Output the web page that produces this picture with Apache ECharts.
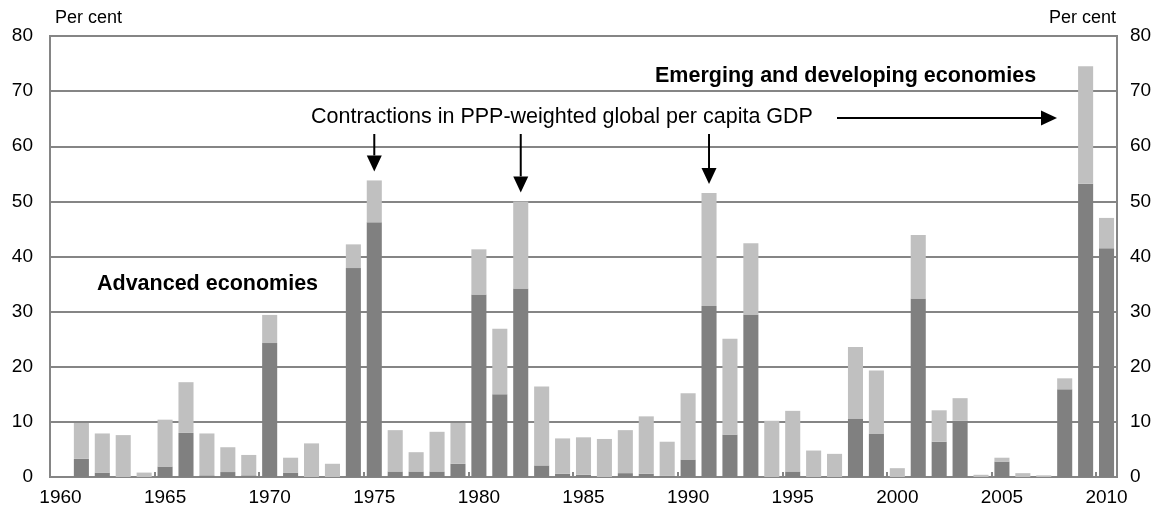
<!DOCTYPE html>
<html>
<head>
<meta charset="utf-8">
<script src="https://cdn.jsdelivr.net/npm/echarts@6/dist/echarts.min.js"></script>
<style>
  html, body { margin: 0; padding: 0; background: #fff; }
  #chart { width: 1165px; height: 518px; }
</style>
</head>
<body>
<div id="chart"></div>
<script>
// years on the x axis
var years = ['1960','1961','1962','1963','1964','1965','1966','1967','1968','1969',
  '1970','1971','1972','1973','1974','1975','1976','1977','1978','1979',
  '1980','1981','1982','1983','1984','1985','1986','1987','1988','1989',
  '1990','1991','1992','1993','1994','1995','1996','1997','1998','1999',
  '2000','2001','2002','2003','2004','2005','2006','2007','2008','2009','2010'];

// share in recession, per cent (dark grey)
var advanced = [0, 3.3, 0.8, 0, 0, 1.9, 8.0, 0.3, 0.9, 0.3,
  24.3, 0.8, 0, 0, 37.9, 46.2, 1.0, 1.0, 1.0, 2.4,
  33.1, 15.0, 34.2, 2.1, 0.6, 0.4, 0, 0.7, 0.6, 0.2,
  3.1, 31.0, 7.7, 29.5, 0, 1.0, 0, 0, 10.6, 7.8,
  0, 32.4, 6.4, 10.2, 0, 2.8, 0, 0, 15.9, 53.2, 41.5];

// stacked on top (light grey)
var emerging = [0, 6.5, 7.1, 7.6, 0.8, 8.5, 9.2, 7.6, 4.5, 3.7,
  5.1, 2.7, 6.1, 2.4, 4.3, 7.6, 7.5, 3.5, 7.2, 7.4,
  8.2, 11.9, 15.8, 14.3, 6.4, 6.8, 6.9, 7.8, 10.4, 6.2,
  12.1, 20.5, 17.4, 12.9, 10.2, 11.0, 4.8, 4.2, 13.0, 11.5,
  1.6, 11.5, 5.7, 4.1, 0.4, 0.7, 0.7, 0.3, 2.0, 21.3, 5.5];

// years marked with a down arrow
var contractionYears = ['1975', '1982', '1991'];

var FONT = 'Liberation Sans, Arial, sans-serif';
var gridColor = '#858585';

var chart = echarts.init(document.getElementById('chart'));

var option = {
  animation: false,
  grid: {
    left: 50, right: 48, top: 36, bottom: 41,
    show: true, borderColor: gridColor, borderWidth: 2
  },
  xAxis: {
    type: 'category',
    data: years,
    axisLine: { lineStyle: { color: gridColor, width: 2 } },
    axisTick: { show: true, inside: true, length: 5, interval: 4, lineStyle: { color: gridColor, width: 2 } },
    axisLabel: { interval: 4, color: '#000', fontSize: 19, fontFamily: FONT, margin: 11 }
  },
  yAxis: [
    {
      type: 'value', min: 0, max: 80, interval: 10, position: 'left',
      axisLine: { show: true, lineStyle: { color: gridColor, width: 2 } },
      axisTick: { show: false },
      splitLine: { lineStyle: { color: gridColor, width: 2 } },
      axisLabel: { color: '#000', fontSize: 19, fontFamily: FONT, margin: 17 }
    },
    {
      type: 'value', min: 0, max: 80, interval: 10, position: 'right',
      axisLine: { show: true, lineStyle: { color: gridColor, width: 2 } },
      axisTick: { show: false },
      splitLine: { show: false },
      axisLabel: { color: '#000', fontSize: 19, fontFamily: FONT, margin: 13 }
    }
  ],
  series: [
    {
      name: 'Advanced economies', type: 'bar', stack: 'share',
      data: advanced, barCategoryGap: '28%',
      itemStyle: { color: '#808080' }
    },
    {
      name: 'Emerging and developing economies', type: 'bar', stack: 'share',
      data: emerging, barCategoryGap: '28%',
      itemStyle: { color: '#c0c0c0' }
    }
  ]
};
chart.setOption(option);

// annotations: texts and arrows
var g = [];
var txt = function (x, y, s, opts) {
  g.push({
    type: 'text', x: x, y: y, z: 50,
    style: Object.assign({ text: s, fill: '#000', font: '18px ' + FONT, textVerticalAlign: 'middle' }, opts || {})
  });
};
txt(55, 18, 'Per cent');
txt(1116, 18, 'Per cent', { textAlign: 'right' });
txt(655, 76, 'Emerging and developing economies', { font: 'bold 21.5px ' + FONT });
txt(311, 117, 'Contractions in PPP-weighted global per capita GDP', { font: '21.5px ' + FONT });
txt(97, 284, 'Advanced economies', { font: 'bold 21.5px ' + FONT });

var arrow = function (x1, y1, x2, y2) {
  var dx = x2 - x1, dy = y2 - y1, len = Math.sqrt(dx * dx + dy * dy);
  var ux = dx / len, uy = dy / len, head = 16, half = 7.5;
  var bx = x2 - ux * head, by = y2 - uy * head;
  g.push({ type: 'line', z: 50, shape: { x1: x1, y1: y1, x2: bx, y2: by }, style: { stroke: '#000', lineWidth: 2 } });
  g.push({ type: 'polygon', z: 50, shape: { points: [[x2, y2], [bx - uy * half, by + ux * half], [bx + uy * half, by - ux * half]] }, style: { fill: '#000' } });
};

contractionYears.forEach(function (yr) {
  var i = years.indexOf(yr);
  var top = chart.convertToPixel({ gridIndex: 0 }, [yr, advanced[i] + emerging[i]]);
  arrow(top[0], 134, top[0], top[1] - 9);
});
arrow(837, 118, 1057, 118);

chart.setOption({ graphic: g });
</script>
</body>
</html>
